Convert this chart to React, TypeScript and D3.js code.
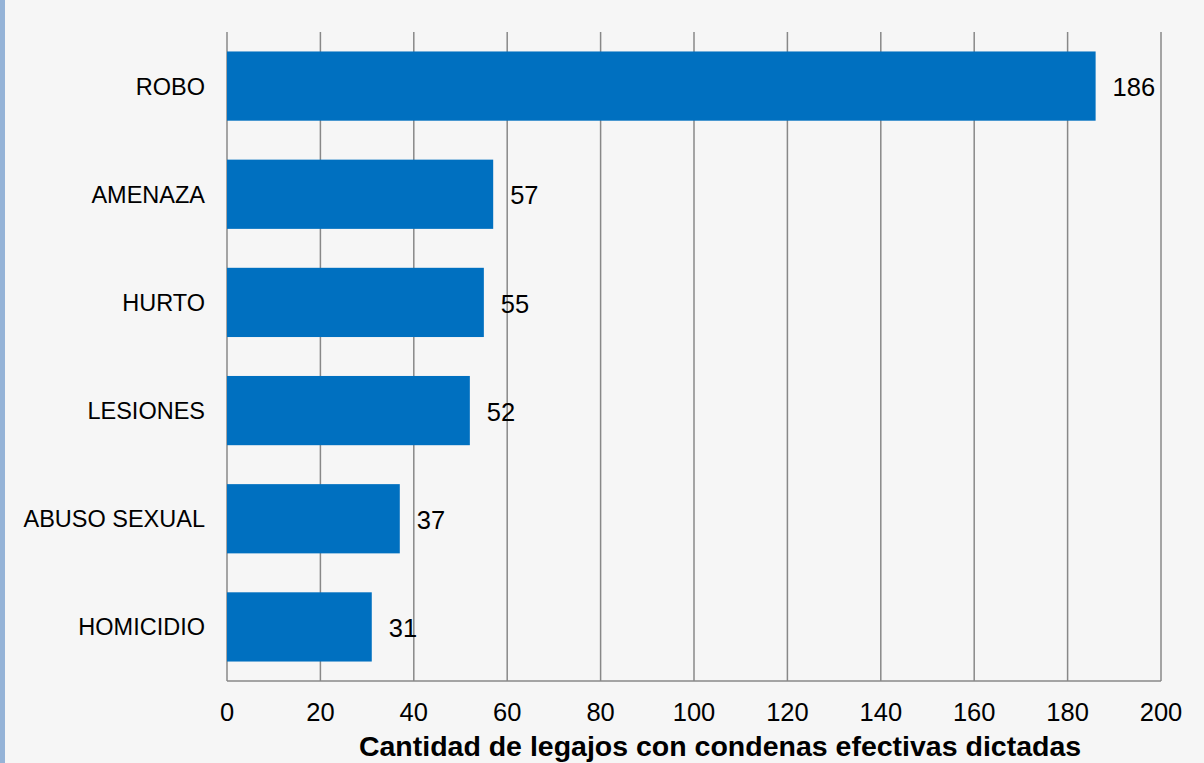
import React from "react";
import * as d3 from "d3";

const categories = ["ROBO", "AMENAZA", "HURTO", "LESIONES", "ABUSO SEXUAL", "HOMICIDIO"];
const values = [186, 57, 55, 52, 37, 31];
const xTicks = [0, 20, 40, 60, 80, 100, 120, 140, 160, 180, 200];
const xTitle = "Cantidad de legajos con condenas efectivas dictadas";

export default function App() {
  const W = 1204, H = 763;
  const left = 227, right = 1161, top = 32, bottom = 681;
  const x = d3.scaleLinear().domain([0, 200]).range([left, right]);
  const y = d3.scaleBand().domain(categories).range([top, bottom]).paddingInner(0.36).paddingOuter(0.18);
  const font = "Liberation Sans, Arial, sans-serif";
  return (
    <div style={{ position: "fixed", left: 0, top: 0 }}>
      <svg width={W} height={H} style={{ display: "block" }}>
        <rect x={0} y={0} width={W} height={H} fill="#f6f6f6" />
        <rect x={0} y={0} width={5} height={H} fill="#95b3d7" />
        {xTicks.map((t) => (
          <line key={t} x1={x(t)} x2={x(t)} y1={top} y2={bottom} stroke="#888" strokeWidth={1.5} />
        ))}
        <line x1={left} x2={right} y1={bottom} y2={bottom} stroke="#888" strokeWidth={1.5} />
        {categories.map((c, i) => (
          <g key={c}>
            <rect x={x(0)} y={y(c)!} width={x(values[i]) - x(0)} height={y.bandwidth()} fill="#0070c0" />
            <text x={x(values[i]) + 17} y={y(c)! + y.bandwidth() / 2 + 1} dy="0.36em" fontFamily={font} fontSize={25.5} fill="#000">
              {values[i]}
            </text>
            <text x={left - 22} y={y(c)! + y.bandwidth() / 2} dy="0.36em" textAnchor="end" fontFamily={font} fontSize={23.5} fill="#000">
              {c}
            </text>
          </g>
        ))}
        {xTicks.map((t) => (
          <text key={"l" + t} x={x(t)} y={712} dy="0.36em" textAnchor="middle" fontFamily={font} fontSize={25.5} fill="#000">
            {t}
          </text>
        ))}
        <text x={720} y={746} dy="0.36em" textAnchor="middle" fontFamily={font} fontSize={28.5} fontWeight="bold" fill="#000">
          {xTitle}
        </text>
      </svg>
    </div>
  );
}
